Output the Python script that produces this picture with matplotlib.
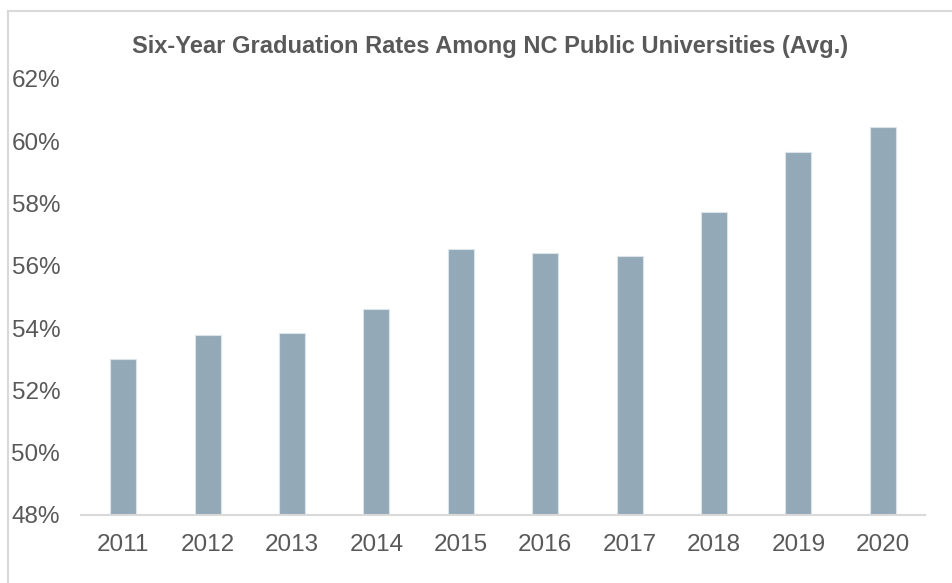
import matplotlib
matplotlib.use("Agg")
import matplotlib.pyplot as plt
from matplotlib.lines import Line2D
from matplotlib.ticker import FuncFormatter

years = ["2011", "2012", "2013", "2014", "2015", "2016", "2017", "2018", "2019", "2020"]
rates = [53.0, 53.77, 53.83, 54.6, 56.54, 56.42, 56.32, 57.72, 59.64, 60.46]
yticks = [48, 50, 52, 54, 56, 58, 60, 62]

plt.rcParams['font.family'] = ['Liberation Sans', 'DejaVu Sans']
text_color = "#595959"
bar_color = "#94A9B8"
line_color = "#D9D9D9"

fig = plt.figure(figsize=(9.53, 5.83), dpi=100)
ax = fig.add_axes([81/953, 1-515/583, (925-81)/953, (515-79)/583])

x = list(range(len(years)))
ax.bar(x, rates, width=0.31, color=bar_color, edgecolor="#DCE3E9", linewidth=0.8, bottom=0)
ax.set_xlim(-0.5, len(years)-0.5)
ax.set_ylim(48, 62)
ax.set_yticks(yticks)
ax.yaxis.set_major_formatter(FuncFormatter(lambda v, p: f"{v:.0f}%"))
ax.set_xticks(x)
ax.set_xticklabels(years)

for s in ["top", "right", "left"]:
    ax.spines[s].set_visible(False)
ax.spines["bottom"].set_color(line_color)
ax.spines["bottom"].set_linewidth(1.5)
ax.tick_params(axis="both", length=0, labelsize=17.5, colors=text_color)
ax.tick_params(axis="y", pad=15)
ax.tick_params(axis="x", pad=14)

fig.text(490/953, 1-47/583, "Six-Year Graduation Rates Among NC Public Universities (Avg.)",
         ha="center", va="center", fontsize=17, fontweight="bold", color=text_color)

# chart frame
fig.add_artist(Line2D([8/953, 8/953], [0, 1-11/583], transform=fig.transFigure, color=line_color, lw=1.5))
fig.add_artist(Line2D([8/953, 1], [1-11/583, 1-11/583], transform=fig.transFigure, color=line_color, lw=1.5))

fig.savefig("out.png", dpi=100)
